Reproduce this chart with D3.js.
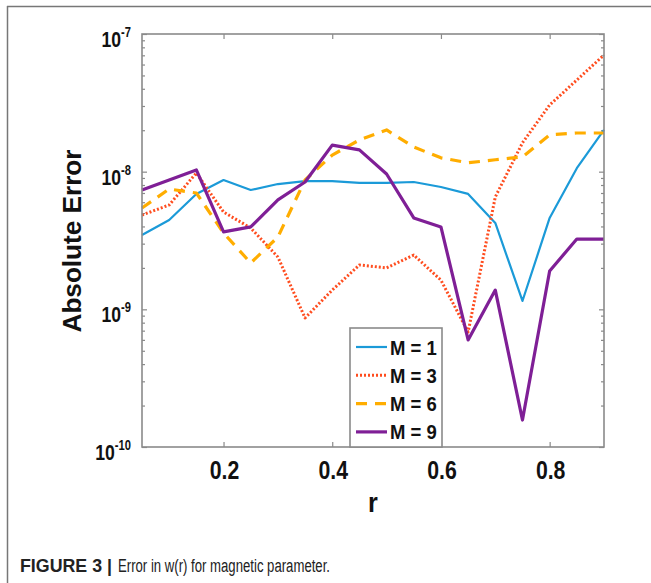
<!DOCTYPE html>
<html>
<head>
<meta charset="utf-8">
<script src="https://cdn.jsdelivr.net/npm/d3@7"></script>
<style>
  body { margin: 0; background: #fff; }
  svg { display: block; }
  .lbl { font-family: "Liberation Sans", Arial, sans-serif; font-weight: bold; fill: #111; }
</style>
</head>
<body>
<svg id="chart" width="651" height="583"></svg>
<script>
// r values
const r = [0.05, 0.1, 0.15, 0.2, 0.25, 0.3, 0.35, 0.4, 0.45, 0.5, 0.55, 0.6, 0.65, 0.7, 0.75, 0.8, 0.85, 0.9];

// absolute error for each M
const errM1 = [3.47e-9, 4.46e-9, 6.89e-9, 8.7e-9, 7.36e-9, 8.13e-9, 8.55e-9, 8.55e-9, 8.28e-9, 8.28e-9, 8.41e-9, 7.74e-9, 6.89e-9, 4.24e-9, 1.15e-9, 4.61e-9, 1.06e-8, 2.01e-8];
const errM3 = [4.84e-9, 5.73e-9, 9.78e-9, 5.09e-9, 3.9e-9, 2.4e-9, 8.65e-10, 1.38e-9, 2.1e-9, 2.0e-9, 2.48e-9, 1.63e-9, 6.84e-10, 6.55e-9, 1.62e-8, 3.05e-8, 4.63e-8, 7.04e-8];
const errM6 = [5.45e-9, 7.48e-9, 7.0e-9, 3.59e-9, 2.17e-9, 3.35e-9, 8.7e-9, 1.32e-8, 1.7e-8, 2.01e-8, 1.51e-8, 1.26e-8, 1.16e-8, 1.22e-8, 1.28e-8, 1.85e-8, 1.91e-8, 1.91e-8];
const errM9 = [7.36e-9, 8.7e-9, 1.03e-8, 3.65e-9, 3.97e-9, 6.23e-9, 8.41e-9, 1.56e-8, 1.44e-8, 9.62e-9, 4.61e-9, 3.97e-9, 5.99e-10, 1.38e-9, 1.57e-10, 1.9e-9, 3.24e-9, 3.24e-9];

const seriesNames = ["M = 1", "M = 3", "M = 6", "M = 9"];
const xTicks = [0.2, 0.4, 0.6, 0.8];
const yExponents = [-10, -9, -8, -7];

const series = [
    {name: seriesNames[0], values: errM1, color: "#1b9ad8", width: 2.2, dash: null},
    {name: seriesNames[1], values: errM3, color: "#ff4d1f", width: 3, dash: "2,2"},
    {name: seriesNames[2], values: errM6, color: "#ffad00", width: 3.2, dash: "11,8"},
    {name: seriesNames[3], values: errM9, color: "#7f1f96", width: 3.2, dash: null}
];

const svg = d3.select("#chart");
const plot = {left: 142, top: 34, right: 604, bottom: 447};
const axisColor = "#8a8a8a";

// figure frame (top and left edges)
svg.append("line").attr("x1", 7).attr("y1", 6.5).attr("x2", 651).attr("y2", 6.5)
    .attr("stroke", "#777").attr("stroke-width", 1.5);
svg.append("line").attr("x1", 7.5).attr("y1", 6).attr("x2", 7.5).attr("y2", 583)
    .attr("stroke", "#777").attr("stroke-width", 1.5);

const x = d3.scaleLinear().domain([0.05, 0.9]).range([plot.left, plot.right]);
const y = d3.scaleLog().domain([1e-10, 1e-7]).range([plot.bottom, plot.top]);

// minor log ticks
const minor = [];
for (let e = -10; e < -7; e++) for (let k = 2; k <= 9; k++) minor.push(k * Math.pow(10, e));
const majors = yExponents.map(e => Math.pow(10, e));

function styleAxis(g) {
    g.select(".domain").remove();
    g.selectAll("line").attr("stroke", axisColor).attr("stroke-width", 1.2);
    g.selectAll("text").remove();
}

svg.append("g").attr("transform", `translate(${plot.left},0)`)
    .call(d3.axisLeft(y).tickValues(minor).tickSize(-3)).call(styleAxis);
svg.append("g").attr("transform", `translate(${plot.left},0)`)
    .call(d3.axisLeft(y).tickValues(majors).tickSize(-5)).call(styleAxis);
svg.append("g").attr("transform", `translate(${plot.right},0)`)
    .call(d3.axisRight(y).tickValues(minor).tickSize(-3)).call(styleAxis);
svg.append("g").attr("transform", `translate(${plot.right},0)`)
    .call(d3.axisRight(y).tickValues(majors).tickSize(-5)).call(styleAxis);
svg.append("g").attr("transform", `translate(0,${plot.bottom})`)
    .call(d3.axisBottom(x).tickValues(xTicks).tickSize(-5)).call(styleAxis);
svg.append("g").attr("transform", `translate(0,${plot.top})`)
    .call(d3.axisTop(x).tickValues(xTicks).tickSize(-5)).call(styleAxis);

// lines
const line = d3.line()
    .x((d, i) => x(r[i]))
    .y(d => y(d));

series.forEach(s => {
    svg.append("path")
        .datum(s.values)
        .attr("fill", "none")
        .attr("stroke", s.color)
        .attr("stroke-width", s.width)
        .attr("stroke-dasharray", s.dash)
        .attr("stroke-linejoin", "round")
        .attr("d", line);
});

// plot box
svg.append("rect")
    .attr("x", plot.left).attr("y", plot.top)
    .attr("width", plot.right - plot.left).attr("height", plot.bottom - plot.top)
    .attr("fill", "none").attr("stroke", axisColor).attr("stroke-width", 1.6);

// x tick labels (narrow bold look)
svg.append("g").selectAll("text").data(xTicks).join("text")
    .attr("class", "lbl")
    .attr("transform", d => `translate(${x(d) + 1},479) scale(0.85,1)`)
    .attr("text-anchor", "middle")
    .attr("font-size", 25)
    .text(d => d3.format(".1f")(d));

// y tick labels 10^n
const yl = svg.append("g").selectAll("text").data(yExponents).join("text")
    .attr("class", "lbl")
    .attr("transform", d => `translate(131,${y(Math.pow(10, d)) + 13}) scale(0.8,1)`)
    .attr("text-anchor", "end")
    .attr("font-size", 22);
yl.append("tspan").text("10");
yl.append("tspan").attr("dy", -10).attr("font-size", 14).text(d => d);

// axis titles
svg.append("text").attr("class", "lbl")
    .attr("transform", `translate(${(plot.left + plot.right) / 2},512) scale(0.9,1)`)
    .attr("text-anchor", "middle").attr("font-size", 28)
    .text("r");
svg.append("text").attr("class", "lbl")
    .attr("transform", `translate(81,241) rotate(-90)`)
    .attr("text-anchor", "middle").attr("font-size", 25)
    .attr("textLength", 183).attr("lengthAdjust", "spacingAndGlyphs")
    .text("Absolute Error");

// legend
const lg = svg.append("g");
lg.append("rect").attr("x", 350).attr("y", 328).attr("width", 92).attr("height", 119)
    .attr("fill", "#fff").attr("stroke", axisColor).attr("stroke-width", 1.6);
series.forEach((s, i) => {
    const ly = 347 + i * 28.3;
    lg.append("line").attr("x1", 356).attr("x2", 387).attr("y1", ly).attr("y2", ly)
        .attr("stroke", s.color).attr("stroke-width", s.width)
        .attr("stroke-dasharray", s.dash);
    lg.append("text").attr("class", "lbl")
        .attr("transform", `translate(390,${ly + 7.5}) scale(0.88,1)`)
        .attr("font-size", 21)
        .text(s.name);
});

// caption
svg.append("text")
    .attr("x", 20).attr("y", 572)
    .attr("font-family", "\"Liberation Sans\", Arial, sans-serif")
    .attr("font-size", 18).attr("font-weight", "bold").attr("fill", "#222")
    .attr("textLength", 92).attr("lengthAdjust", "spacingAndGlyphs")
    .text("FIGURE 3 |");
svg.append("text")
    .attr("x", 118).attr("y", 572)
    .attr("font-family", "\"Liberation Sans\", Arial, sans-serif")
    .attr("font-size", 18).attr("fill", "#222")
    .attr("textLength", 212).attr("lengthAdjust", "spacingAndGlyphs")
    .text("Error in w(r) for magnetic parameter.");
</script>
</body>
</html>
